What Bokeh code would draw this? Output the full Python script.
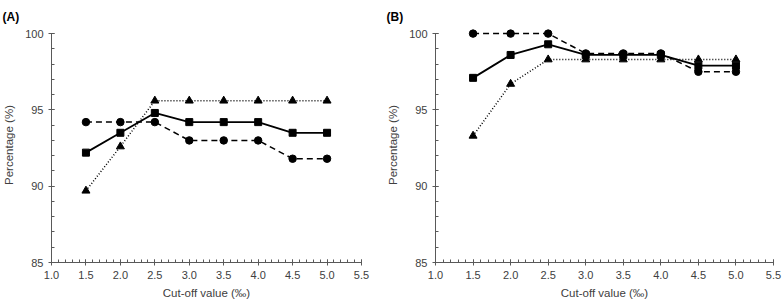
from bokeh.plotting import figure
from bokeh.models import Range1d, FixedTicker, CustomJSTickFormatter
from bokeh.layouts import row
from bokeh.embed import file_html
from bokeh.resources import INLINE

cutoff = [1.5, 2.0, 2.5, 3.0, 3.5, 4.0, 4.5, 5.0]
a_square = [92.2, 93.5, 94.8, 94.2, 94.2, 94.2, 93.5, 93.5]
a_circle = [94.2, 94.2, 94.2, 93.0, 93.0, 93.0, 91.8, 91.8]
a_triangle = [89.7, 92.6, 95.6, 95.6, 95.6, 95.6, 95.6, 95.6]
b_square = [97.1, 98.6, 99.3, 98.6, 98.6, 98.6, 97.9, 97.9]
b_circle = [100.0, 100.0, 100.0, 98.7, 98.7, 98.7, 97.5, 97.5]
b_triangle = [93.3, 96.7, 98.3, 98.3, 98.3, 98.3, 98.3, 98.3]
x_ticks = [1.0, 1.5, 2.0, 2.5, 3.0, 3.5, 4.0, 4.5, 5.0, 5.5]
y_ticks = [85, 90, 95, 100]
x_minor = [round(1.0 + 0.1 * i, 1) for i in range(46)]
y_minor = list(range(85, 101))

FONT = "Liberation Sans"
AXIS_COL = "#595959"
TXT_COL = "#404040"


def make_panel(tag, sq, ci, tr, frame_w, border_r):
    p = figure(frame_width=frame_w, frame_height=235,
               min_border_left=49, min_border_right=border_r,
               min_border_top=27, min_border_bottom=39,
               x_range=Range1d(1.0, 5.5), y_range=Range1d(85, 100.4),
               title=tag,
               output_backend="svg", toolbar_location=None)
    p.outline_line_color = None
    p.grid.visible = False
    p.background_fill_color = "white"
    p.border_fill_color = "white"

    p.title.align = "left"
    p.title.offset = -49
    p.title.standoff = 8
    p.title.text_font = FONT
    p.title.text_font_size = "12px"
    p.title.text_font_style = "bold"
    p.title.text_color = "black"

    for ax in (p.xaxis[0], p.yaxis[0]):
        ax.axis_line_color = AXIS_COL
        ax.major_tick_line_color = AXIS_COL
        ax.minor_tick_line_color = AXIS_COL
        ax.major_tick_in = 3
        ax.major_tick_out = 3
        ax.minor_tick_in = 3
        ax.minor_tick_out = 0
        ax.major_label_text_font = FONT
        ax.major_label_text_font_size = "11px"
        ax.major_label_text_color = TXT_COL
        ax.axis_label_text_font = FONT
        ax.axis_label_text_font_size = "11.5px"
        ax.axis_label_text_font_style = "normal"
        ax.axis_label_text_color = TXT_COL

    p.xaxis.ticker = FixedTicker(ticks=x_ticks, minor_ticks=x_minor)
    p.yaxis.ticker = FixedTicker(ticks=y_ticks, minor_ticks=y_minor)
    p.xaxis.formatter = CustomJSTickFormatter(code="return tick.toFixed(1);")
    p.xaxis.bounds = (1.0, 5.5)
    p.yaxis.bounds = (85, 100)
    p.xaxis.axis_label = "Cut-off value (‰)"
    p.yaxis.axis_label = "Percentage (%)"
    p.xaxis.major_label_standoff = 5
    p.xaxis.axis_label_standoff = 5
    p.yaxis.major_label_standoff = 5
    p.yaxis.axis_label_standoff = 7

    p.line(cutoff, tr, line_color="black", line_width=1.5, line_dash="1 2")
    p.line(cutoff, ci, line_color="black", line_width=1.5, line_dash="6 4")
    p.line(cutoff, sq, line_color="black", line_width=1.8)
    p.scatter(cutoff, tr, marker="triangle", size=8, color="black")
    p.scatter(cutoff, ci, marker="circle", size=7.5, color="black")
    p.scatter(cutoff, sq, marker="square", size=7, color="black")
    return p


pA = make_panel("(A)", a_square, a_circle, a_triangle, 310, 23)
pB = make_panel("(B)", b_square, b_circle, b_triangle, 338, 13)

layout = row(pA, pB)
open("out.html", "w").write(file_html(layout, INLINE))
